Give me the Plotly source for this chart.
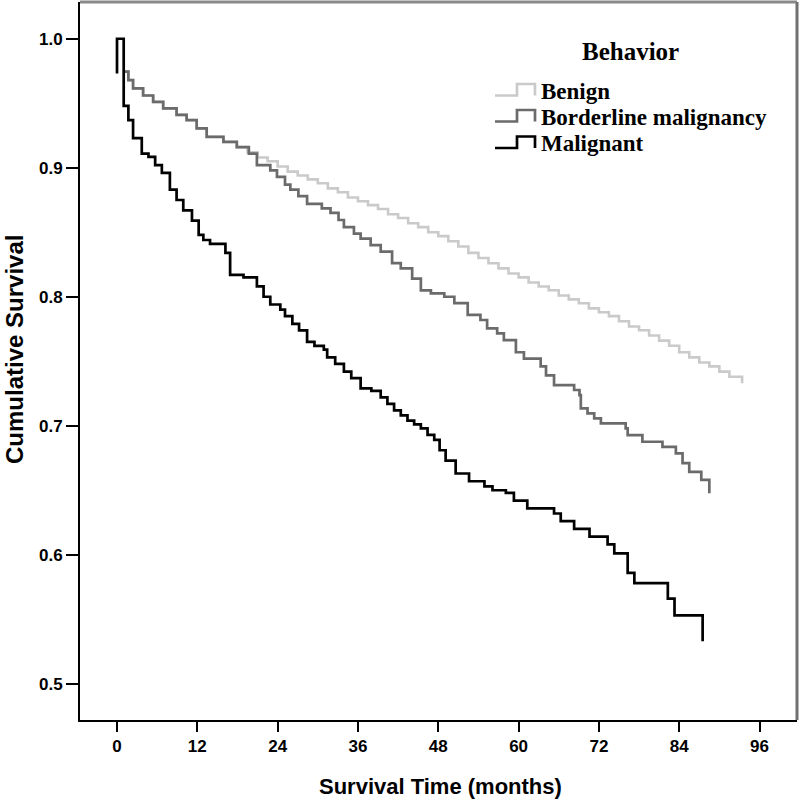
import plotly.graph_objects as go

# ---------------- data ----------------
series_names = ["Benign", "Borderline malignancy", "Malignant"]

benign_t = [1.0, 1.7, 2.4, 3.9, 5.4, 6.9, 8.9, 10.4, 11.9, 13.4, 15.9, 17.9,
            19.5, 21, 22.5, 24, 25.5, 27, 28.5, 30, 31.5, 33, 34.5, 36, 37.5, 39,
            40.5, 42, 43.5, 45, 46.5, 48, 49.5, 51, 52.5, 54, 55.5, 57, 58.5, 60,
            61.5, 63, 64.5, 66, 67.5, 69, 70.5, 72, 73.5, 75, 76.5, 78, 79.5, 81,
            82.5, 84, 85.5, 87, 88.5, 90, 91.5, 93.4]
benign_s = [0.9745, 0.968, 0.9615, 0.956, 0.951, 0.946, 0.941, 0.937, 0.9305, 0.924,
            0.920, 0.916,
            0.912, 0.908, 0.905, 0.901, 0.897, 0.894, 0.891, 0.888, 0.884, 0.881,
            0.877, 0.874, 0.871, 0.868, 0.864, 0.861, 0.857, 0.854, 0.850, 0.847,
            0.843, 0.839, 0.834, 0.830, 0.826, 0.822, 0.818, 0.815, 0.811, 0.808,
            0.805, 0.801, 0.798, 0.795, 0.791, 0.788, 0.785, 0.781, 0.777, 0.774,
            0.770, 0.766, 0.762, 0.757, 0.753, 0.749, 0.746, 0.742, 0.738, 0.733]

border_t = [1.0, 1.7, 2.4, 3.9, 5.4, 6.9, 8.9, 10.4, 11.9, 13.4, 15.9, 17.9, 19.7,
            20.9, 22.9, 23.9, 25.1, 25.9, 27.1, 28.4, 30.6, 31.9, 33.1, 33.9, 35.4,
            36.4, 37.9, 39.4, 41.1, 42.4, 44.1, 45.4, 46.9, 48.9, 50.4, 52.4, 54.3,
            55.3, 56.8, 57.8, 59.6, 60.8, 63.3, 64.1, 65.3, 68.3, 69.1, 69.3, 70.3,
            71.3, 72.3, 76.0, 76.3, 78.5, 81.5, 83.5, 84.5, 85.5, 87.3, 88.5]
border_s = [0.9745, 0.968, 0.9615, 0.956, 0.951, 0.946, 0.941, 0.937, 0.9305, 0.924,
            0.920, 0.916, 0.911, 0.902, 0.898, 0.893, 0.887, 0.883, 0.878, 0.872,
            0.8685, 0.865, 0.8595, 0.854, 0.849, 0.845, 0.840, 0.835, 0.826, 0.822,
            0.814, 0.805, 0.8026, 0.800, 0.795, 0.786, 0.782, 0.7755, 0.7716, 0.7664,
            0.757, 0.752, 0.746, 0.739, 0.7315, 0.7277, 0.7238, 0.7135, 0.7096,
            0.7057, 0.7019, 0.698, 0.6928, 0.6876, 0.6837, 0.6786, 0.671, 0.6643,
            0.658, 0.6476]

malig_t = [0, 0, 1.0, 1.7, 2.4, 3.7, 4.7, 5.7, 6.7, 7.9, 8.9, 9.9, 11.2, 12.2, 12.9,
           13.9, 16.2, 16.9, 18.9, 20.9, 21.9, 22.9, 24.4, 25.1, 26.2, 27.2, 28.4,
           29.5, 30.9, 31.4, 32.6, 33.9, 35.0, 36.4, 38.0, 39.4, 40.4, 41.4, 42.4,
           43.4, 44.4, 45.4, 46.4, 47.4, 48.2, 49.1, 50.6, 52.6, 54.9, 56.1, 58.1,
           59.3, 61.3, 65.3, 66.3, 68.3, 70.6, 73.3, 74.3, 76.3, 77.3, 82.3, 83.3, 87.5]
malig_s = [0.973, 1.0, 0.948, 0.937, 0.923, 0.911, 0.9085, 0.902, 0.896, 0.883, 0.875,
           0.867, 0.859, 0.848, 0.844, 0.841, 0.834, 0.817, 0.815, 0.808, 0.800, 0.794,
           0.790, 0.785, 0.779, 0.774, 0.765, 0.762, 0.759, 0.753, 0.748, 0.742, 0.737,
           0.729, 0.727, 0.722, 0.717, 0.712, 0.708, 0.704, 0.701, 0.698, 0.693, 0.689,
           0.681, 0.673, 0.663, 0.657, 0.653, 0.650, 0.648, 0.642, 0.636, 0.632, 0.626,
           0.620, 0.614, 0.608, 0.601, 0.586, 0.578, 0.566, 0.553, 0.533]

x_ticks = [0, 12, 24, 36, 48, 60, 72, 84, 96]
y_ticks = [0.5, 0.6, 0.7, 0.8, 0.9, 1.0]
y_tick_labels = ["0.5", "0.6", "0.7", "0.8", "0.9", "1.0"]

colors = ["#cacaca", "#6b6b6b", "#000000"]

# ---------------- figure ----------------
W, H = 800, 803
L, R, T, B = 80, 3, 2, 83
PW, PH = W - L - R, H - T - B


def px(x):
    return (x - L) / PW


def py(y):
    return (H - B - y) / PH


fig = go.Figure()
fig.add_trace(go.Scatter(x=benign_t, y=benign_s, mode="lines", name=series_names[0],
                         line=dict(color=colors[0], width=2.6, shape="hv")))
fig.add_trace(go.Scatter(x=border_t, y=border_s, mode="lines", name=series_names[1],
                         line=dict(color=colors[1], width=2.7, shape="hv")))
fig.add_trace(go.Scatter(x=malig_t, y=malig_s, mode="lines", name=series_names[2],
                         line=dict(color=colors[2], width=2.7, shape="hv")))

tick_font = dict(family="Liberation Sans, Arial", size=17, color="black", weight="bold")

fig.update_layout(
    width=W, height=H,
    margin=dict(l=L, r=R, t=T, b=B, pad=0),
    paper_bgcolor="white", plot_bgcolor="white",
    showlegend=False,
    xaxis=dict(range=[-5.53, 101.6], tickvals=x_ticks, ticks="outside", ticklen=10,
               tickwidth=2, tickcolor="black", showline=True, linecolor="black",
               linewidth=2, showgrid=False, zeroline=False, tickfont=tick_font),
    yaxis=dict(range=[0.4719, 1.0285], tickvals=y_ticks, ticktext=y_tick_labels,
               ticks="outside", ticklen=12, tickwidth=2, tickcolor="black",
               showline=True, linecolor="black", linewidth=2, showgrid=False,
               zeroline=False, tickfont=tick_font),
)

# frame: grey top and right borders
fig.add_shape(type="line", xref="paper", yref="paper", x0=0, x1=1, y0=1, y1=1,
              line=dict(color="#8a8a8a", width=3))
fig.add_shape(type="line", xref="paper", yref="paper", x0=1, x1=1, y0=0, y1=1,
              line=dict(color="#707070", width=3))

# axis titles
fig.add_annotation(text="<b>Survival Time (months)</b>", xref="paper", yref="paper",
                   x=px(440), y=py(786), xanchor="center", yanchor="middle",
                   showarrow=False,
                   font=dict(family="Liberation Sans, Arial", size=22, color="black"))
fig.add_annotation(text="<b>Cumulative Survival</b>", xref="paper", yref="paper",
                   x=px(14), y=py(350), xanchor="center", yanchor="middle",
                   textangle=-90, showarrow=False,
                   font=dict(family="Liberation Sans, Arial", size=24, color="black"))

# legend (drawn manually to get step-shaped keys)
fig.add_annotation(text="<b>Behavior</b>", xref="paper", yref="paper",
                   x=px(630), y=py(52), xanchor="center", yanchor="middle",
                   showarrow=False,
                   font=dict(family="Liberation Serif, Times New Roman, serif", size=25,
                             color="black"))
leg_y = [91, 117, 143.5]
for name, col, yc in zip(series_names, colors, leg_y):
    lo, hi = yc + 4.5, yc - 7
    path = (f"M {px(495)},{py(lo)} L {px(517)},{py(lo)} L {px(517)},{py(hi)} "
            f"L {px(535)},{py(hi)} L {px(535)},{py(lo)}")
    fig.add_shape(type="path", xref="paper", yref="paper", path=path,
                  line=dict(color=col, width=2.7))
    fig.add_annotation(text=f"<b>{name}</b>", xref="paper", yref="paper",
                       x=px(539), y=py(yc), xanchor="left", yanchor="middle",
                       showarrow=False,
                       font=dict(family="Liberation Serif, Times New Roman, serif",
                                 size=23, color="black"))

fig.write_html("out.html",
               config={"displayModeBar": False},
               post_script="document.body.style.margin='0px';"
                           "document.body.style.padding='0px';")
